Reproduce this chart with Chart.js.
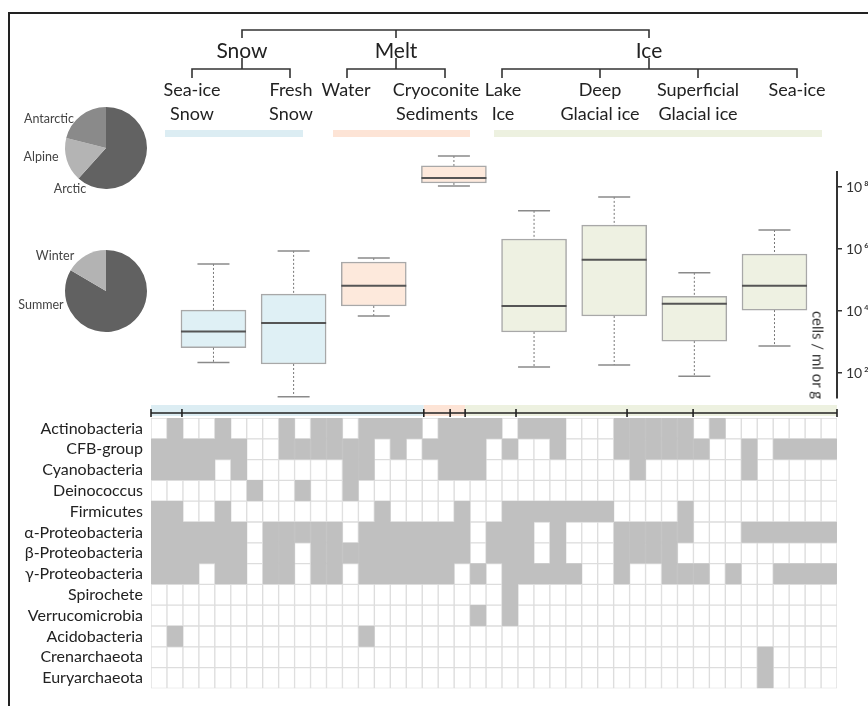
<!DOCTYPE html>
<html>
<head>
<meta charset="utf-8">
<script src="https://cdn.jsdelivr.net/npm/chart.js@4/dist/chart.umd.min.js"></script>
<style>
html,body{margin:0;padding:0;background:#fff;width:868px;height:706px;overflow:hidden;}
#stage{position:relative;width:868px;height:706px;font-family:Lato,'Open Sans',sans-serif;color:#222;overflow:hidden;}
canvas{position:absolute;left:0;top:0;}
.t{position:absolute;white-space:nowrap;transform:translate(-50%,-50%);line-height:1;}
#frame{position:absolute;left:8px;top:12px;width:900px;height:800px;border-left:2px solid #222;border-top:2px solid #222;}
.band{position:absolute;height:7px;top:130px;}
svg{position:absolute;left:0;top:0;}
</style>
</head>
<body>
<div id="stage">
  <div id="frame"></div>
  <svg width="868" height="706" id="tree"></svg>
  <canvas id="pieRegion" width="868" height="706"></canvas>
  <canvas id="pieSeason" width="868" height="706"></canvas>
  <canvas id="boxes" width="868" height="706"></canvas>
  <canvas id="grid" width="868" height="706"></canvas>
</div>
<script>
// ---------------- data ----------------
const habitats = ['Sea-ice Snow','Fresh Snow','Water','Cryoconite Sediments','Lake Ice','Deep Glacial ice','Superficial Glacial ice','Sea-ice'];
const habitatGroup = ['snow','snow','melt','melt','ice','ice','ice','ice'];
const whiskerHigh = [3.3e5, 8.7e5, 5.1e5, 1.0e9, 1.7e7, 4.8e7, 1.7e5, 4.1e6];
const quartile3  = [1.07e4, 3.5e4, 3.8e5, 4.8e8, 2.1e6, 5.9e6, 3.0e4, 6.9e5];
const medians    = [2.2e3, 4.1e3, 6.5e4, 1.95e8, 1.45e4, 4.5e5, 1.7e4, 6.5e4];
const quartile1  = [650, 195, 1.45e4, 1.35e8, 2.1e3, 6.9e3, 1.07e3, 1.07e4];
const whiskerLow = [220, 17, 6.9e3, 1.07e8, 155, 180, 79, 740];
const yTicks = [1e2, 1e4, 1e6, 1e8];
const yLimits = [15.6, 3.05e8];

const regionLabels = ['Arctic','Alpine','Antarctic'];
const regionShares = [61.7, 17.2, 21.1];
const seasonLabels = ['Summer','Winter'];
const seasonShares = [83.5, 16.5];

const taxa = ['Actinobacteria','CFB-group','Cyanobacteria','Deinococcus','Firmicutes','α-Proteobacteria','β-Proteobacteria','γ-Proteobacteria','Spirochete','Verrucomicrobia','Acidobacteria','Crenarchaeota','Euryarchaeota'];
const presence = [
  '0100100010110111101111011100011111010000000',
  '1111110011111101011110100100011111100101111',
  '1111010000001100001110000000001000000100000',
  '0000001001001000000000000000000000000000000',
  '1100100000000010000100111111100001000000000',
  '1111110111110111111101110100011111000111111',
  '1111110110111111111101110100011110000000000',
  '1110110110110111111010111110010011101001111',
  '0000000000000000000000100000000000000000000',
  '0000000000000000000010100000000000000000000',
  '0100000000000100000000000000000000000000000',
  '0000000000000000000000000000000000000010000',
  '0000000000000000000000000000000000000010000'
];
// study bracket breaks (in study-column units) and habitat spans
const studyBreaks = [0, 1.94, 17.1, 18.75, 19.69, 22.88, 29.84, 33.98, 43];
const groupSpans = [['snow', 0, 17.1], ['melt', 17.1, 19.69], ['ice', 19.69, 43]];

// ---------------- styles ----------------
const BOX_FILL = {snow:'#dff0f5', melt:'#fde9dc', ice:'#eef1e2'};
const BAND_FILL = {snow:'#dcedf3', melt:'#fde4d6', ice:'#edf1e0'};
const CELL_ON = '#c0c0c0', CELL_OFF = '#ffffff', CELL_LINE = '#dddddd';
const FONT = "Lato, 'Open Sans', sans-serif";
Chart.defaults.font.family = FONT;
const base = {responsive:false, animation:false, devicePixelRatio:1,
  plugins:{legend:{display:false}, tooltip:{enabled:false}}, events:[]};
const nCols = presence[0].length;

// ---------------- header text & tree ----------------
const stage = document.getElementById('stage');
function addText(txt, x, y, size, color){
  const d = document.createElement('div');
  d.className = 't'; d.textContent = txt;
  d.style.left = x + 'px'; d.style.top = y + 'px';
  d.style.fontSize = size + 'px'; if (color) d.style.color = color;
  stage.appendChild(d); return d;
}
[['Snow',242],['Melt',396],['Ice',649]].forEach(([t,x]) => addText(t, x, 49, 21));
[['Sea-ice',192,'Snow',192],['Fresh',291,'Snow',291],['Water',346,null],['Cryoconite',436,'Sediments',437],
 ['Lake',503,'Ice',503],['Deep',600,'Glacial ice',600],['Superficial',698,'Glacial ice',698],['Sea-ice',797,null]]
 .forEach(([a,xa,b,xb]) => { addText(a, xa, 89, 18); if (b) addText(b, xb, 113, 18); });
[['snow',165,303],['melt',333,470],['ice',494,822]].forEach(([g,a,b]) => {
  const d = document.createElement('div'); d.className='band';
  d.style.left=a+'px'; d.style.width=(b-a)+'px'; d.style.background=BAND_FILL[g]; stage.appendChild(d);
});
const tree = document.getElementById('tree');
['M242,38V30H649V38','M396,30V38',
 'M242,58V69','M192,78V69H290V78',
 'M396,58V69','M347,78V69H445V78',
 'M649,58V69','M502,78V69H797V78','M600,69V78','M698,69V78'].forEach(p => {
  const e = document.createElementNS('http://www.w3.org/2000/svg','path');
  e.setAttribute('d', p); e.setAttribute('fill','none'); e.setAttribute('stroke','#333'); e.setAttribute('stroke-width','1.6');
  tree.appendChild(e);
});
// pie labels
addText('Antarctic', 49, 119, 12.5, '#444');
addText('Alpine', 41, 157, 12.5, '#444');
addText('Arctic', 70, 189, 12.5, '#444');
addText('Winter', 55, 256, 12.5, '#444');
addText('Summer', 41, 305, 12.5, '#444');
// axis title
const at = addText('cells / ml or g', 818, 355, 15, '#333');
at.style.transform = 'translate(-50%,-50%) rotate(90deg)';

// ---------------- pies ----------------
new Chart(document.getElementById('pieRegion'), {
  type:'pie',
  data:{labels:regionLabels, datasets:[{data:regionShares, backgroundColor:['#626262','#b4b4b4','#8a8a8a'], borderWidth:0}]},
  options:{...base, layout:{padding:{left:65, right:721, top:107, bottom:517}}}
});
new Chart(document.getElementById('pieSeason'), {
  type:'pie',
  data:{labels:seasonLabels, datasets:[{data:seasonShares, backgroundColor:['#616161','#b3b3b3'], borderWidth:0}]},
  options:{...base, layout:{padding:{left:65, right:721, top:250, bottom:374}}}
});

// ---------------- box plots ----------------
const SUP = {2:'²',4:'⁴',6:'⁶',8:'⁸'};
const whiskerPlugin = {
  id:'whiskers',
  afterDatasetsDraw(chart){
    const {ctx, scales:{x, y}} = chart;
    const bars = chart.getDatasetMeta(0).data;
    ctx.save();
    habitats.forEach((h, i) => {
      const cx = x.getPixelForValue(i + 1);
      const half = bars[i].width / 2;
      const pHi = y.getPixelForValue(whiskerHigh[i]), pQ3 = y.getPixelForValue(quartile3[i]);
      const pMed = y.getPixelForValue(medians[i]);
      const pQ1 = y.getPixelForValue(quartile1[i]), pLo = y.getPixelForValue(whiskerLow[i]);
      ctx.strokeStyle = '#777'; ctx.lineWidth = 1; ctx.setLineDash([2, 2]);
      ctx.beginPath(); ctx.moveTo(cx, pHi); ctx.lineTo(cx, pQ3); ctx.moveTo(cx, pQ1); ctx.lineTo(cx, pLo); ctx.stroke();
      ctx.setLineDash([]); ctx.strokeStyle = '#8a8a8a'; ctx.lineWidth = 1.5;
      ctx.beginPath(); ctx.moveTo(cx - 16, pHi); ctx.lineTo(cx + 16, pHi); ctx.moveTo(cx - 16, pLo); ctx.lineTo(cx + 16, pLo); ctx.stroke();
      ctx.strokeStyle = '#555'; ctx.lineWidth = 2;
      ctx.beginPath(); ctx.moveTo(cx - half, pMed); ctx.lineTo(cx + half, pMed); ctx.stroke();
    });
    ctx.restore();
  }
};
new Chart(document.getElementById('boxes'), {
  type:'bar',
  data:{datasets:[{
    data: habitats.map((h, i) => ({x:i + 1, y:[quartile1[i], quartile3[i]]})),
    backgroundColor: habitatGroup.map(g => BOX_FILL[g]),
    borderColor:'#a8a8a8', borderWidth:1.5, borderSkipped:false, barThickness:65, clip:false
  }]},
  options:{...base,
    layout:{padding:{left:173.4, right:0, top:172, bottom:308}},
    scales:{
      x:{type:'linear', min:0.5, max:8.78, display:false, offset:false},
      y:{type:'logarithmic', position:'right', min:yLimits[0], max:yLimits[1],
         afterFit(s){ s.width = 31; },
         afterBuildTicks(s){ s.ticks = yTicks.map(v => ({value:v})); },
         ticks:{callback:v => '10\u2009' + SUP[Math.round(Math.log10(v))], padding:4, color:'#333', font:{size:14}},
         grid:{drawOnChartArea:false, drawTicks:true, tickLength:5, color:'#333', lineWidth:1.5},
         border:{display:true, color:'#333', width:2}}
    }
  },
  plugins:[whiskerPlugin]
});

// ---------------- presence grid ----------------
const bracketPlugin = {
  id:'studyBracket',
  afterDraw(chart){
    const {ctx, chartArea, scales:{x}} = chart;
    const top = chartArea.top;
    ctx.save();
    groupSpans.forEach(([g, a, b]) => {
      const xa = x.getPixelForValue(a), xb = x.getPixelForValue(b);
      ctx.fillStyle = BAND_FILL[g]; ctx.fillRect(xa, top - 13, xb - xa, 11);
    });
    ctx.strokeStyle = '#222'; ctx.lineWidth = 1.6;
    ctx.beginPath(); ctx.moveTo(x.getPixelForValue(0), top - 5); ctx.lineTo(x.getPixelForValue(nCols), top - 5); ctx.stroke();
    studyBreaks.forEach(b => { const px = x.getPixelForValue(b); ctx.beginPath(); ctx.moveTo(px, top - 9); ctx.lineTo(px, top - 1); ctx.stroke(); });
    ctx.restore();
  }
};
const cellDatasets = [];
for (let c = 0; c < nCols; c++) {
  cellDatasets.push({
    data: taxa.map(() => 1),
    backgroundColor: taxa.map((_, r) => presence[r][c] === '1' ? CELL_ON : CELL_OFF),
    borderColor: taxa.map((_, r) => presence[r][c] === '1' ? CELL_ON : CELL_LINE),
    borderWidth:1, borderSkipped:false, barPercentage:1, categoryPercentage:1
  });
}
new Chart(document.getElementById('grid'), {
  type:'bar',
  data:{labels:taxa, datasets:cellDatasets},
  options:{...base, indexAxis:'y',
    layout:{padding:{left:0, right:31, top:418, bottom:12}},
    scales:{
      x:{type:'linear', stacked:true, min:0, max:nCols, display:false},
      y:{stacked:true, grid:{display:false, drawTicks:false}, border:{display:false},
         afterFit(s){ s.width = 151; },
         ticks:{padding:8, color:'#222', font:{size:16}, autoSkip:false}}
    }
  },
  plugins:[bracketPlugin]
});
</script>
</body>
</html>
